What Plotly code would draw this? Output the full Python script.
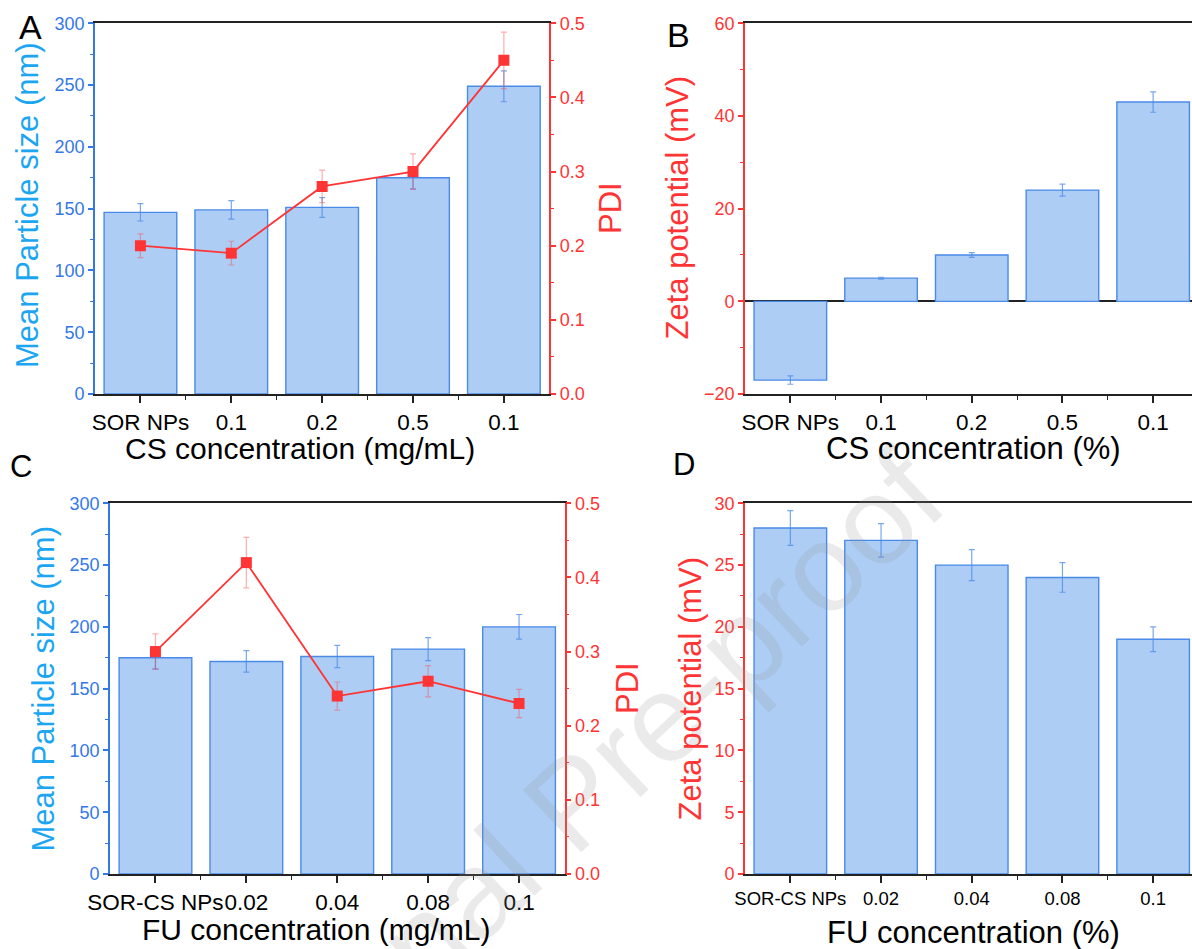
import plotly.graph_objects as go

W, H = 1192, 949

# ---------------- data ----------------
cs_labels = ["SOR NPs", "0.1", "0.2", "0.5", "0.1"]
cs_size = [147, 149, 151, 175, 249]
cs_size_err = [7, 7.5, 8, 9, 12.5]
cs_pdi = [0.20, 0.19, 0.28, 0.30, 0.45]
cs_pdi_err = [0.016, 0.016, 0.022, 0.024, 0.038]
cs_zeta = [-17, 5, 10, 24, 43]
cs_zeta_err = [0.9, 0.2, 0.5, 1.3, 2.2]

fu_labels = ["SOR-CS NPs", "0.02", "0.04", "0.08", "0.1"]
fu_size = [175, 172, 176, 182, 200]
fu_size_err = [9, 8.7, 9, 9.3, 10]
fu_pdi = [0.30, 0.42, 0.24, 0.26, 0.23]
fu_pdi_err = [0.024, 0.034, 0.019, 0.021, 0.019]
fu_zeta = [28, 27, 25, 24, 19]
fu_zeta_err = [1.4, 1.35, 1.25, 1.2, 1.0]

# ---------------- styles ----------------
BAR_FILL = "rgb(173,205,245)"
BAR_LINE = "rgb(74,138,232)"
BAR_ERR = "rgba(74,138,232,0.75)"
BLUE_AX = "rgb(52,120,232)"
BLUE_TITLE = "rgb(28,166,242)"
RED = "rgb(255,52,52)"
RED_ERR = "rgba(255,70,70,0.45)"
FONT = "Liberation Sans, Arial, sans-serif"

pos_cs = list(range(len(cs_labels)))
pos_fu = list(range(len(fu_labels)))
bounds = [0.5, 1.5, 2.5, 3.5]


def bar(x, y, err, xa, ya):
    return go.Bar(
        x=x, y=y, xaxis=xa, yaxis=ya, width=0.8,
        marker=dict(color=BAR_FILL, line=dict(color=BAR_LINE, width=1.4)),
        error_y=dict(type="data", array=err, color=BAR_ERR, thickness=1.2, width=3),
        showlegend=False,
    )


def pdi(x, y, err, xa, ya):
    return go.Scatter(
        x=x, y=y, xaxis=xa, yaxis=ya, mode="lines+markers",
        line=dict(color=RED, width=1.8),
        marker=dict(symbol="square", size=11, color=RED),
        error_y=dict(type="data", array=err, color=RED_ERR, thickness=1.2, width=3),
        showlegend=False,
    )


fig = go.Figure()
fig.add_trace(bar(pos_cs, cs_size, cs_size_err, "x", "y"))
fig.add_trace(pdi(pos_cs, cs_pdi, cs_pdi_err, "x", "y2"))
fig.add_trace(bar(pos_cs, cs_zeta, cs_zeta_err, "x2", "y3"))
fig.add_trace(bar(pos_fu, fu_size, fu_size_err, "x3", "y4"))
fig.add_trace(pdi(pos_fu, fu_pdi, fu_pdi_err, "x3", "y5"))
fig.add_trace(bar(pos_fu, fu_zeta, fu_zeta_err, "x4", "y6"))


def xaxis(dom, anchor, labels, rng, fsize):
    return dict(
        domain=dom, anchor=anchor, range=rng, automargin=False, tickangle=0,
        tickmode="array", tickvals=list(range(len(labels))), ticktext=labels,
        showline=True, linecolor="#222", linewidth=1.6, mirror=True,
        ticks="outside", ticklen=7, tickwidth=1.5, tickcolor="#222",
        minor=dict(tickmode="array", tickvals=bounds, ticks="outside",
                   ticklen=4, tickwidth=1.2, tickcolor="#222"),
        tickfont=dict(size=fsize, color="black", family=FONT),
        showgrid=False, zeroline=False, fixedrange=True,
    )


def yaxis(dom, anchor, rng, dtick, color, side="left", overlay=None, fmt=None, zeroline=False):
    d = dict(
        anchor=anchor, range=rng, tickmode="linear", tick0=0, dtick=dtick,
        automargin=False,
        showline=True, linecolor=color, linewidth=1.6, side=side,
        ticks="outside", ticklen=5, tickwidth=1.5, tickcolor=color,
        minor=dict(dtick=dtick / 2, ticks="outside", ticklen=3, tickwidth=1.2, tickcolor=color),
        tickfont=dict(size=18, color=color, family=FONT),
        showgrid=False, zeroline=zeroline, fixedrange=True,
    )
    if zeroline:
        d.update(zerolinecolor="#222", zerolinewidth=1.6)
    if dom is not None:
        d["domain"] = dom
    if overlay:
        d["overlaying"] = overlay
    if fmt:
        d["tickformat"] = fmt
    return d


top_dom = [1 - 394 / H, 1 - 23.3 / H]
bot_dom = [1 - 874 / H, 1 - 503.3 / H]
right_rng = [-0.5, -0.5 + (W - 745) / 90.7]

fig.update_layout(
    width=W, height=H, margin=dict(l=0, r=0, t=0, b=0, autoexpand=False),
    paper_bgcolor="white", plot_bgcolor="white",
    font=dict(family=FONT, color="black"),
    bargap=0.2,
    xaxis=xaxis([95 / W, 549.3 / W], "y", cs_labels, [-0.5, 4.5], 22.5),
    yaxis=yaxis(top_dom, "x", [0, 300], 50, BLUE_AX),
    yaxis2=yaxis(None, "x", [0, 0.5], 0.1, RED, side="right", overlay="y", fmt=".1f"),
    xaxis2=xaxis([745 / W, 1.0], "y3", cs_labels, right_rng, 22.5),
    yaxis3=yaxis(top_dom, "x2", [-20, 60], 20, RED, zeroline=True),
    xaxis3=xaxis([110 / W, 564.5 / W], "y4", fu_labels, [-0.5, 4.5], 22.5),
    yaxis4=yaxis(bot_dom, "x3", [0, 300], 50, BLUE_AX),
    yaxis5=yaxis(None, "x3", [0, 0.5], 0.1, RED, side="right", overlay="y4", fmt=".1f"),
    xaxis4=xaxis([745 / W, 1.0], "y6", fu_labels, right_rng, 18.5),
    yaxis6=yaxis(bot_dom, "x4", [0, 30], 5, RED),
)


def ann(text, px, py, size, color="black", angle=0):
    fig.add_annotation(
        text=text, x=px / W, y=1 - py / H, xref="paper", yref="paper",
        xanchor="center", yanchor="middle", showarrow=False, textangle=angle,
        font=dict(size=size, color=color, family=FONT),
    )


# watermark (drawn first so the chart texts sit above it in the list)
ann("Journal Pre-proof", 572, 802, 124, "rgba(150,150,150,0.2)", -43)

# axis titles
ann("Mean Particle size (nm)", 27, 205, 31, BLUE_TITLE, -90)
ann("PDI", 610, 208, 31, RED, -90)
ann("CS concentration (mg/mL)", 300, 448, 30)
ann("Zeta potential (mV)", 677, 207.5, 31, RED, -90)
ann("CS concentration (%)", 973, 448, 31)
ann("Mean Particle size (nm)", 42.6, 689, 31, BLUE_TITLE, -90)
ann("PDI", 627, 688, 31, RED, -90)
ann("FU concentration (mg/mL)", 316, 929, 30)
ann("Zeta potential (mV)", 690, 688.5, 31, RED, -90)
ann("FU concentration (%)", 973, 932, 31)

# panel letters
ann("A", 30.5, 27.5, 34)
ann("B", 678.5, 34.5, 34)
ann("C", 20.5, 466, 31)
ann("D", 683.5, 464, 31)

fig.write_html("out.html")
